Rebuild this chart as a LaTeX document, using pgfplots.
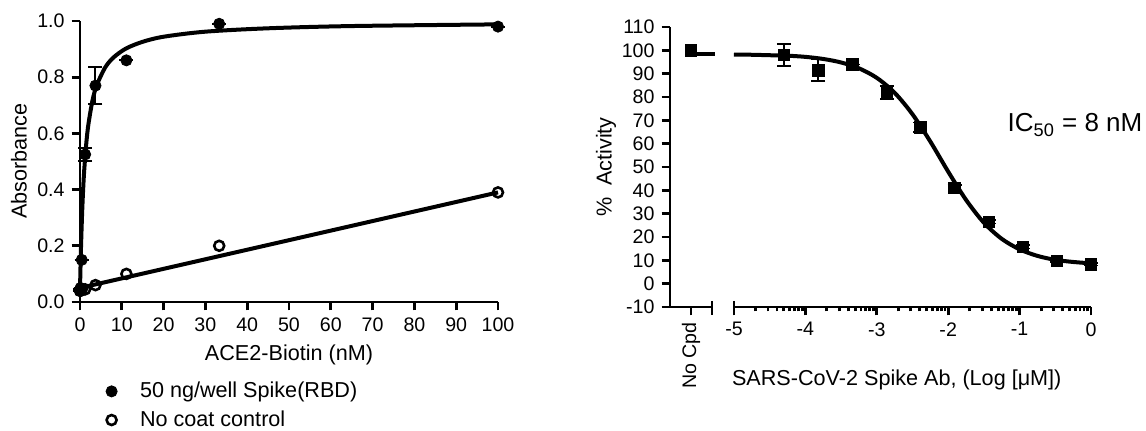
\documentclass[border=0pt]{standalone}
\usepackage{fontspec}
\setmainfont{Liberation Sans}
\usepackage{pgfplots}
\pgfplotsset{compat=1.18}
\newcommand\lbl{\fontsize{10.8}{12}\selectfont}

\pgfplotstableread{
x     y     e
100   0.98  0
33.3  0.99  0
11.1  0.86  0
3.7   0.77  0.065
1.23  0.525 0.022
0.41  0.15  0
0.137 0.05  0
0.046 0.045 0
0     0.04  0
}\spike
\pgfplotstableread{
x     y
100   0.39
33.3  0.20
11.1  0.10
3.7   0.06
1.23  0.045
0.41  0.045
0.137 0.04
0     0.04
}\nocoat
% fitted binding curve
\pgfplotstableread{
x    y
0    0.04
0.1  0.111
0.25 0.20
0.5  0.314
0.75 0.40
1    0.467
1.5  0.564
2    0.631
3    0.718
4    0.771
6    0.834
8    0.870
11   0.902
15   0.926
20   0.944
30   0.962
45   0.974
65   0.982
100  0.988
}\spikefit
\pgfplotstableread{
x      y    e
-4.30  98   4.7
-3.82  91.5 4.7
-3.34  94   0
-2.86  82   2.8
-2.39  67   2.1
-1.91  41   1.2
-1.43  26.5 0.8
-0.954 15.8 0.8
-0.477 9.8  0.6
0      8.3  0.5
}\activity
% fitted dose-response curve
\pgfplotstableread{
x     y
-5    98.2
-4.75 98.1
-4.5  97.9
-4.25 97.7
-4    97.2
-3.75 96.3
-3.5  94.8
-3.25 92.3
-3    88.2
-2.75 81.8
-2.5  72.6
-2.25 60.9
-2    48.0
-1.75 35.9
-1.5  26.1
-1.25 19.2
-1    14.7
-0.75 11.9
-0.5  10.2
-0.25 9.3
0     8.7
}\activityfit

\pgfplotsset{
  gp/.style={
    scale only axis, clip=false,
    axis lines=left, axis line style={line width=1.4pt, -},
    tick align=outside, tick style={line width=1.4pt, black},
    major tick length=4.2pt, minor tick length=2.2pt,
    tick label style={font=\fontsize{9.8}{10}\selectfont},
    /pgf/number format/assume math mode=true,
  },
}

\begin{document}
\begin{tikzpicture}
\path[use as bounding box] (0,0) rectangle (573pt,-215.5pt);

\begin{axis}[gp,
  at={(40pt,-151pt)}, anchor=south west,
  width=209pt, height=140.5pt,
  xmin=0, xmax=100, ymin=0, ymax=1,
  xtick={0,10,...,100},
  ytick={0,0.2,0.4,0.6,0.8,1.0},
  yticklabels={0.0,0.2,0.4,0.6,0.8,1.0},
  legend style={draw=none, fill=none, font=\lbl,
    at={(axis description cs:0.045,-0.255)}, anchor=north west,
    row sep=1pt},
  legend cell align=left,
  legend image code/.code={\draw[#1] plot coordinates {(3pt,0pt)};
                           \path (0pt,0pt) (15pt,0pt);},
]
\addplot[black, line width=2pt, smooth, forget plot] table {\spikefit};
\addplot[black, line width=2pt, forget plot] coordinates {(0,0.05) (100,0.39)};
\addplot[black, only marks, mark=*, mark size=2.8pt,
  error bars/.cd, y dir=both, y explicit,
  error bar style={line width=1pt},
  error mark options={rotate=90, mark size=3.5pt, line width=1pt}]
  table[x=x, y=y, y error=e] {\spike};
\addlegendentry{50 ng/well Spike(RBD)}
\addplot[black, only marks, mark=o, mark size=2.5pt,
  mark options={fill=white, line width=1.3pt}]
  table[x=x, y=y] {\nocoat};
\addlegendentry{No coat control}
\end{axis}

\begin{axis}[gp,
  at={(335pt,-153.5pt)}, anchor=south west,
  width=210.5pt, height=140pt,
  xmin=-5.896, xmax=0, ymin=-10, ymax=110,
  xtick={-5,-4,-3,-2,-1,0},
  minor xtick={-4.699,-4.523,-4.398,-4.301,-4.222,-4.155,-4.097,-4.046,
               -3.699,-3.523,-3.398,-3.301,-3.222,-3.155,-3.097,-3.046,
               -2.699,-2.523,-2.398,-2.301,-2.222,-2.155,-2.097,-2.046,
               -1.699,-1.523,-1.398,-1.301,-1.222,-1.155,-1.097,-1.046,
               -0.699,-0.523,-0.398,-0.301,-0.222,-0.155,-0.097,-0.046},
  ytick={-10,0,10,...,110},
  x axis line style={draw=none},
  extra x ticks={-5.602},
  extra x tick labels={No Cpd},
  extra x tick style={tick label style={rotate=90, anchor=east,
                      font=\fontsize{9.8}{10}\selectfont}},
]
\addplot[black, line width=2pt, forget plot] coordinates {(-5.602,98.3) (-5.27,98.3)};
\addplot[black, line width=2pt, smooth, forget plot] table {\activityfit};
\addplot[black, only marks, mark=square*, mark size=2.9pt]
  coordinates {(-5.602,100)};
\addplot[black, only marks, mark=square*, mark size=2.9pt,
  error bars/.cd, y dir=both, y explicit,
  error bar style={line width=0.8pt},
  error mark options={rotate=90, mark size=3.5pt, line width=0.8pt}]
  table[x=x, y=y, y error=e] {\activity};
% broken x axis
\draw[line width=1.4pt] (axis cs:-5.896,-10) -- (axis cs:-5.308,-10);
\draw[line width=1.4pt] (axis cs:-5,-10) -- (axis cs:0,-10);
\draw[line width=1.4pt] ([yshift=3pt]axis cs:-5.308,-10) -- ([yshift=-4.2pt]axis cs:-5.308,-10);
\draw[line width=1.4pt] ([yshift=3pt]axis cs:-5,-10) -- (axis cs:-5,-10);
\end{axis}

\node[rotate=90, font=\lbl] at (9.5pt,-80.5pt) {Absorbance};
\node[font=\lbl] at (144.5pt,-177.5pt) {ACE2-Biotin (nM)};
\node[rotate=90, font=\lbl] at (303pt,-83.5pt) {\%\ \ Activity};
\node[font=\lbl, anchor=west] at (362.5pt,-190pt) {SARS-CoV-2 Spike Ab, (Log [μM])};
\node[font=\fontsize{13}{15}\selectfont] at (537.5pt,-62.5pt) {IC\textsubscript{50} = 8 nM};
\end{tikzpicture}
\end{document}
